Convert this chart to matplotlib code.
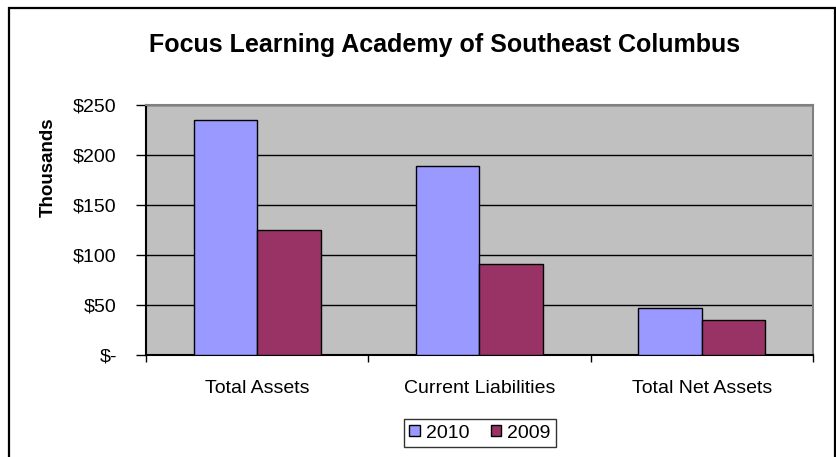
import matplotlib
matplotlib.use("Agg")
import matplotlib.pyplot as plt
from matplotlib.patches import Rectangle
from matplotlib.ticker import FuncFormatter
import numpy as np

categories = ["Total Assets", "Current Liabilities", "Total Net Assets"]
series_names = ["2010", "2009"]
values_2010 = [235, 189, 47]
values_2009 = [125, 91, 35]
y_ticks = [0, 50, 100, 150, 200, 250]

plt.rcParams['font.family'] = ['Liberation Sans', 'DejaVu Sans']

W, H = 837, 457
fig = plt.figure(figsize=(W / 100, H / 100), dpi=100)
fig.patch.set_facecolor('white')

# outer chart border
fig.patches.append(Rectangle((9 / W, -0.02), (835 - 9) / W, 1 - 8 / H + 0.02,
                             transform=fig.transFigure, fill=False,
                             edgecolor='black', linewidth=1.6, zorder=0))

left, right, top, bottom = 146, 813, 105, 355
ax = fig.add_axes([left / W, 1 - bottom / H, (right - left) / W, (bottom - top) / H])
ax.set_facecolor('#C0C0C0')

x = np.arange(len(categories))
w = 1 / 3.5
ax.bar(x - w / 2, values_2010, width=w, color='#9999FF', edgecolor='black',
       linewidth=1.0, label=series_names[0], zorder=3)
ax.bar(x + w / 2, values_2009, width=w, color='#993366', edgecolor='black',
       linewidth=1.0, label=series_names[1], zorder=3)

ax.set_xlim(-0.5, len(categories) - 0.5)
ax.set_ylim(0, 250)
ax.set_yticks(y_ticks)
ax.yaxis.set_major_formatter(FuncFormatter(lambda v, p: "$-" if v == 0 else f"${int(v)}"))
ax.yaxis.grid(True, color='black', linewidth=1.0, zorder=1)
ax.set_axisbelow(True)

ax.set_xticks(x)
ax.set_xticklabels(categories)
ax.set_xticks(np.arange(len(categories) + 1) - 0.5, minor=True)
ax.tick_params(axis='x', which='major', length=0, pad=18, labelsize=14)
ax.tick_params(axis='x', which='minor', length=5, width=1, direction='out', color='black')
ax.tick_params(axis='y', which='major', length=7, width=1, direction='out', pad=14,
               labelsize=14)

for s in ['left', 'bottom']:
    ax.spines[s].set_color('black')
    ax.spines[s].set_linewidth(1.5)
for s in ['top', 'right']:
    ax.spines[s].set_color('#808080')
    ax.spines[s].set_linewidth(1.5)

fig.text(445 / W, 1 - 45 / H, "Focus Learning Academy of Southeast Columbus",
         ha='center', va='center', fontsize=18, fontweight='bold')
fig.text(48 / W, 1 - 167 / H, "Thousands", rotation=90, ha='center', va='center',
         fontsize=13.5, fontweight='bold')

leg = fig.legend(loc='center', bbox_to_anchor=(480 / W, 1 - 433 / H), ncol=2,
                 frameon=True, fancybox=False, edgecolor='black', fontsize=14,
                 handlelength=0.55, handleheight=0.55, handletextpad=0.3,
                 columnspacing=1.1, borderpad=0.3)
leg.get_frame().set_linewidth(1.0)

fig.savefig("out.png", dpi=100)
